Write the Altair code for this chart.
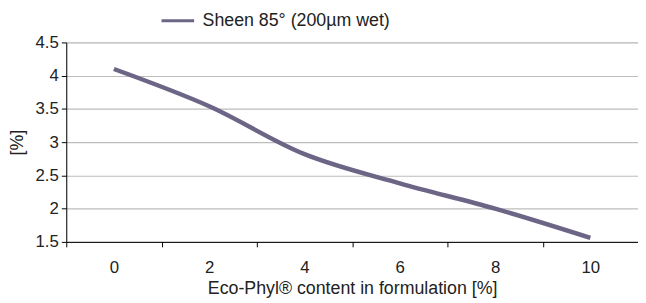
import altair as alt
import pandas as pd

# Data
eco_phyl = [0, 2, 4, 6, 8, 10]
sheen_85 = [4.1, 3.54, 2.82, 2.38, 2.0, 1.56]
series_name = "Sheen 85° (200µm wet)"

y_ticks = [1.5, 2, 2.5, 3, 3.5, 4, 4.5]
x_tick_bounds = [-1, 1, 3, 5, 7, 9]

df = pd.DataFrame({"x": eco_phyl, "y": sheen_85, "series": [series_name] * len(eco_phyl)})

W = 579
H = 202
FONT = "Liberation Sans"
TXT = "#222222"

line = alt.Chart(df).mark_line(interpolate="catmull-rom", strokeWidth=4.5).encode(
    x=alt.X(
        "x:Q",
        scale=alt.Scale(domain=[-1, 11], nice=False, zero=False),
        axis=alt.Axis(
            values=x_tick_bounds,
            labelExpr="datum.value + 1",
            labelOffset=W / 12,
            labelFlush=False,
            labelOverlap=False,
            grid=False,
            tickSize=5,
            tickColor="#000000",
            domainColor="#000000",
            labelFontSize=17,
            labelPadding=13,
            titleFontSize=18,
            titlePadding=4,
            title="Eco-Phyl® content in formulation [%]",
            titleFontWeight="normal",
        ),
    ),
    y=alt.Y(
        "y:Q",
        scale=alt.Scale(domain=[1.5, 4.5], nice=False, zero=False),
        axis=alt.Axis(
            values=y_ticks,
            format="~g",
            grid=True,
            gridColor="#bdbdbd",
            gridWidth=1.2,
            tickSize=5,
            tickColor="#000000",
            domainColor="#000000",
            labelFontSize=17,
            labelPadding=3,
            title="[%]",
            titleFontSize=18,
            titleFontWeight="normal",
            titlePadding=9,
        ),
    ),
    color=alt.Color(
        "series:N",
        scale=alt.Scale(range=["#6d6585"]),
        legend=alt.Legend(
            title=None,
            orient="none",
            legendX=95,
            legendY=-40,
            symbolType="stroke",
            symbolSize=1089,
            symbolStrokeWidth=3,
            labelFontSize=18,
            labelOffset=7,
            labelLimit=0,
            labelColor=TXT,
        ),
    ),
)

chart = line.properties(
    width=W,
    height=H,
    padding={"left": 59, "top": 33, "right": 0, "bottom": 58},
    autosize=alt.AutoSizeParams(type="none"),
).configure_view(strokeWidth=0).configure(font=FONT).configure_axis(
    labelColor=TXT, titleColor=TXT, labelFont=FONT, titleFont=FONT
).configure_legend(labelFont=FONT)

chart.save("out.html", embed_options={"renderer": "svg", "actions": False})
